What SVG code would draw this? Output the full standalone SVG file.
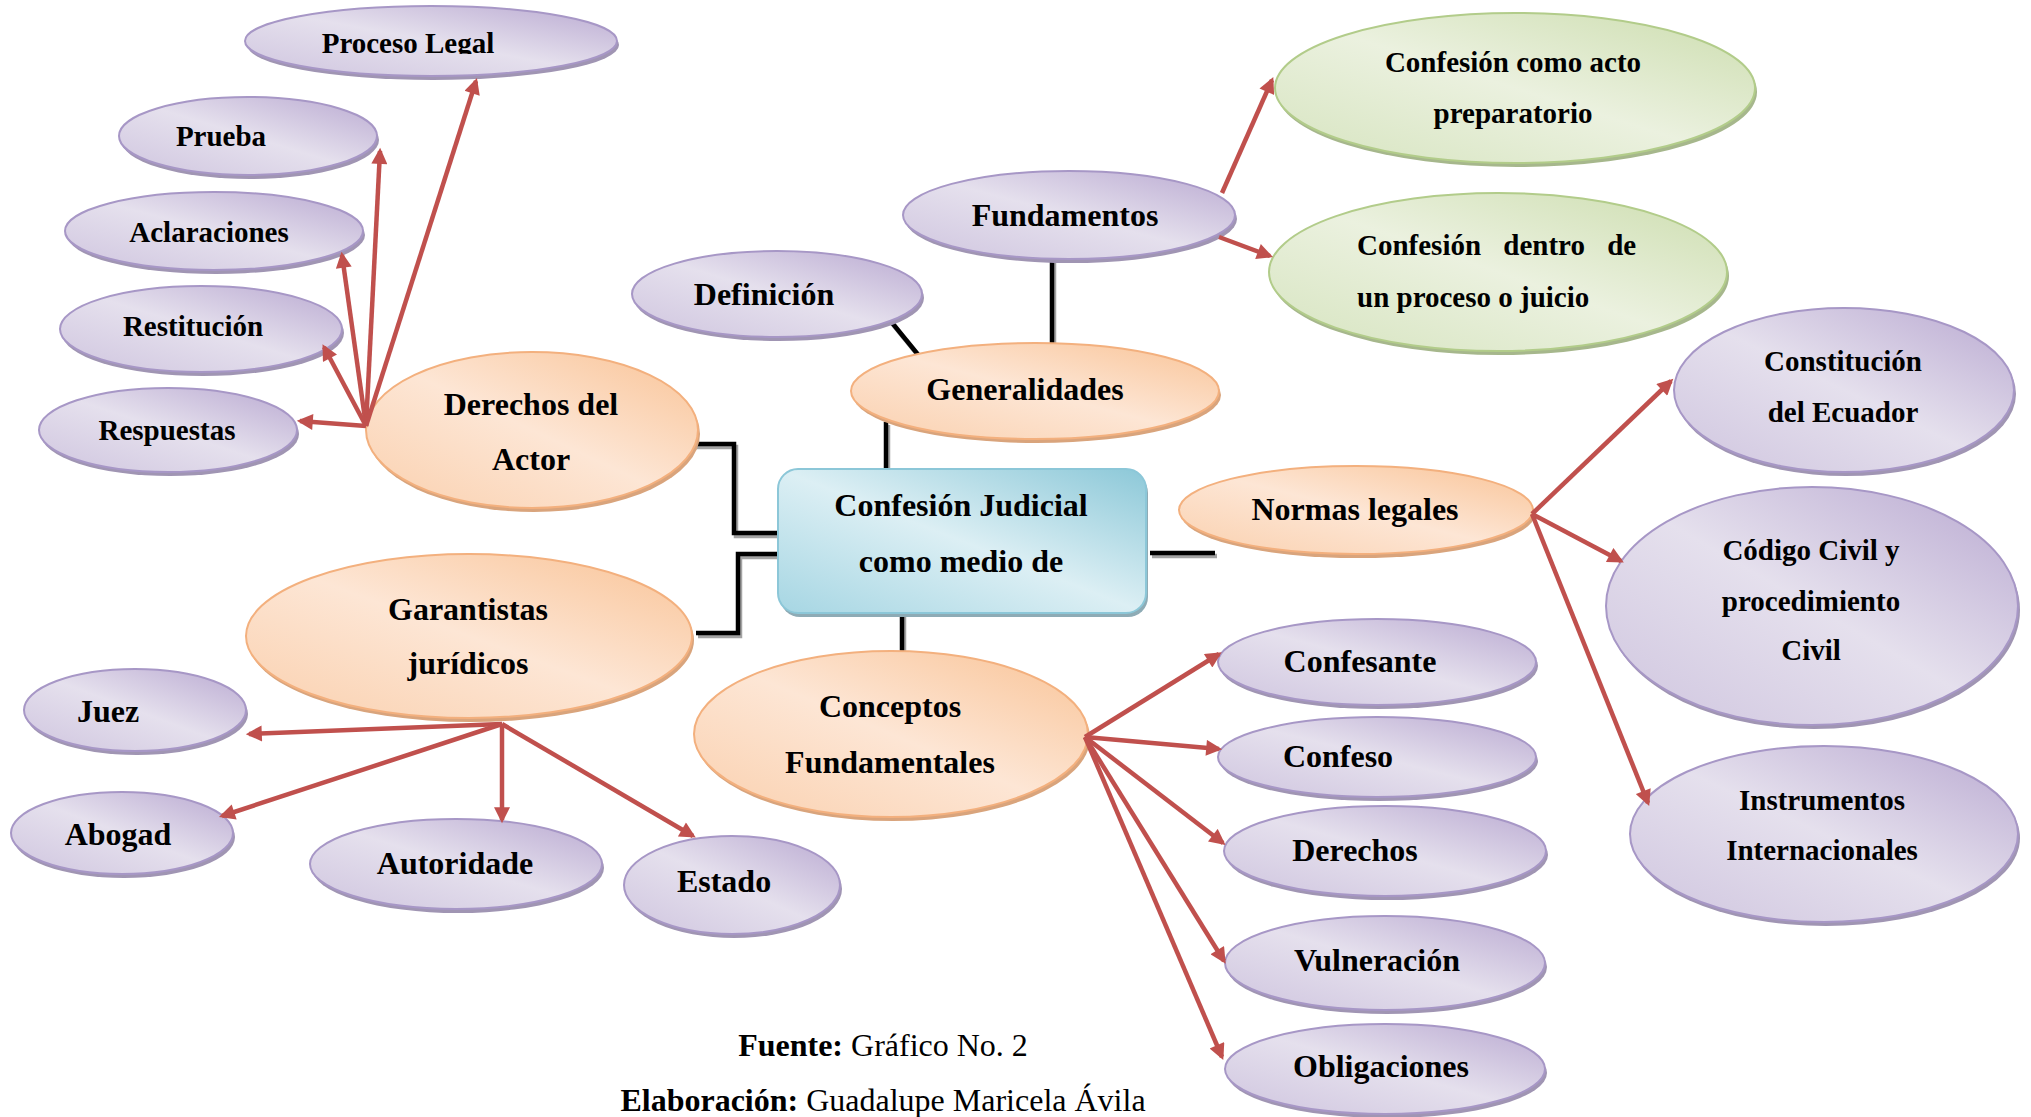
<svg xmlns="http://www.w3.org/2000/svg" width="2031" height="1117" viewBox="0 0 2031 1117">
<defs>
<linearGradient id="gp" x1="1" y1="0" x2="0" y2="1">
<stop offset="0" stop-color="#B9A9D1"/><stop offset="0.5" stop-color="#E5E0ED"/><stop offset="1" stop-color="#CFC5DF"/>
</linearGradient>
<linearGradient id="go" x1="1" y1="0" x2="0" y2="1">
<stop offset="0" stop-color="#F9C396"/><stop offset="0.5" stop-color="#FDE6D5"/><stop offset="1" stop-color="#FAD0AE"/>
</linearGradient>
<linearGradient id="gg" x1="1" y1="0" x2="0" y2="1">
<stop offset="0" stop-color="#CCDDAE"/><stop offset="0.5" stop-color="#EBF1DF"/><stop offset="1" stop-color="#D6E4BF"/>
</linearGradient>
<linearGradient id="gb" x1="1" y1="0" x2="0" y2="1">
<stop offset="0" stop-color="#8CC8D8"/><stop offset="0.5" stop-color="#DCEFF4"/><stop offset="1" stop-color="#A6D6E3"/>
</linearGradient>
<marker id="ah" viewBox="0 0 10 10" refX="8" refY="5" markerWidth="18" markerHeight="16" markerUnits="userSpaceOnUse" orient="auto">
<path d="M0,0 L10,5 L0,10 z" fill="#C0504D"/>
</marker>
<clipPath id="clipPL"><rect x="0" y="0" width="700" height="54"/></clipPath>
<style>
.t{font-family:"Liberation Serif","Times New Roman",serif;font-weight:bold;text-anchor:middle;fill:#000}
.r{font-weight:normal}
.s32{font-size:32px}
.s29{font-size:29px}
.pu{fill:url(#gp);stroke:#A797C6;stroke-width:2}
.pus{fill:#A095B3}
.or{fill:url(#go);stroke:#F3B07E;stroke-width:2}
.ors{fill:#D9A47C}
.gr{fill:url(#gg);stroke:#B2CC8A;stroke-width:2}
.grs{fill:#A6B78C}
.bl{fill:url(#gb);stroke:#8CC7D8;stroke-width:2}
.bls{fill:#8EABB5}
.blk{stroke:#000;stroke-width:4.5;fill:none}
.blks{stroke:#A3A3A3;stroke-width:4.5;fill:none}
.red{stroke:#C0504D;stroke-width:4.5;fill:none;marker-end:url(#ah)}
</style>
</defs>
<rect width="2031" height="1117" fill="#fff"/>

<g id="connectors">
<g id="black-shadows" transform="translate(2,3)">
<path class="blks" d="M886,422 V469"/>
<path class="blks" d="M1052,259 V345"/>
<path class="blks" d="M889,319 L920,357"/>
<path class="blks" d="M690,444 H734 V533 H778"/>
<path class="blks" d="M778,554 H738 V633 H696"/>
<path class="blks" d="M902,613 V652"/>
<path class="blks" d="M1150,553 H1215"/>
</g>
<path class="blk" d="M886,422 V469"/>
<path class="blk" d="M1052,259 V345"/>
<path class="blk" d="M889,319 L920,357"/>
<path class="blk" d="M690,444 H734 V533 H778"/>
<path class="blk" d="M778,554 H738 V633 H696"/>
<path class="blk" d="M902,613 V652"/>
<path class="blk" d="M1150,553 H1215"/>
</g>

<g id="n-proceso-legal"><ellipse class="pus" cx="433" cy="45" rx="186" ry="35"/><ellipse class="pu" cx="431" cy="41" rx="186" ry="35"/><text class="t s29" x="408" y="53" clip-path="url(#clipPL)">Proceso Legal</text></g>
<g id="n-prueba"><ellipse class="pus" cx="250" cy="140" rx="129" ry="39"/><ellipse class="pu" cx="248" cy="136" rx="129" ry="39"/><text class="t s29" x="221" y="146">Prueba</text></g>
<g id="n-aclaraciones"><ellipse class="pus" cx="216" cy="235" rx="149" ry="39"/><ellipse class="pu" cx="214" cy="231" rx="149" ry="39"/><text class="t s29" x="209" y="242">Aclaraciones</text></g>
<g id="n-restitucion"><ellipse class="pus" cx="203" cy="333" rx="141" ry="43"/><ellipse class="pu" cx="201" cy="329" rx="141" ry="43"/><text class="t s29" x="193" y="336">Restitución</text></g>
<g id="n-respuestas"><ellipse class="pus" cx="170" cy="434" rx="129" ry="42"/><ellipse class="pu" cx="168" cy="430" rx="129" ry="42"/><text class="t s29" x="167" y="440">Respuestas</text></g>
<g id="n-derechos-actor"><ellipse class="ors" cx="534" cy="434" rx="166" ry="78"/><ellipse class="or" cx="532" cy="430" rx="166" ry="78"/><text class="t s32" x="531" y="415">Derechos del</text><text class="t s32" x="531" y="470">Actor</text></g>
<g id="n-definicion"><ellipse class="pus" cx="779" cy="298" rx="145" ry="43"/><ellipse class="pu" cx="777" cy="294" rx="145" ry="43"/><text class="t s32" x="764" y="305">Definición</text></g>
<g id="n-fundamentos"><ellipse class="pus" cx="1071" cy="219" rx="166" ry="44"/><ellipse class="pu" cx="1069" cy="215" rx="166" ry="44"/><text class="t s32" x="1065" y="226">Fundamentos</text></g>
<g id="n-generalidades"><ellipse class="ors" cx="1037" cy="395" rx="184" ry="48"/><ellipse class="or" cx="1035" cy="391" rx="184" ry="48"/><text class="t s32" x="1025" y="400">Generalidades</text></g>
<g id="n-conf-acto"><ellipse class="grs" cx="1517" cy="92" rx="240" ry="75"/><ellipse class="gr" cx="1515" cy="88" rx="240" ry="75"/><text class="t s29" x="1513" y="72">Confesión como acto</text><text class="t s29" x="1513" y="123">preparatorio</text></g>
<g id="n-conf-proceso"><ellipse class="grs" cx="1500" cy="276" rx="229" ry="79"/><ellipse class="gr" cx="1498" cy="272" rx="229" ry="79"/><text class="t s29" x="1357" y="255" style="text-anchor:start" word-spacing="15">Confesión dentro de</text><text class="t s29" x="1357" y="307" style="text-anchor:start">un proceso o juicio</text></g>
<g id="n-central"><rect class="bls" x="780" y="473" width="368" height="144" rx="20"/><rect class="bl" x="778" y="469" width="368" height="144" rx="20"/><text class="t s32" x="961" y="516">Confesión Judicial</text><text class="t s32" x="961" y="572">como medio de</text></g>
<g id="n-normas"><ellipse class="ors" cx="1358" cy="514" rx="177" ry="44"/><ellipse class="or" cx="1356" cy="510" rx="177" ry="44"/><text class="t s32" x="1355" y="520">Normas legales</text></g>
<g id="n-constitucion"><ellipse class="pus" cx="1846" cy="394" rx="170" ry="82"/><ellipse class="pu" cx="1844" cy="390" rx="170" ry="82"/><text class="t s29" x="1843" y="371">Constitución</text><text class="t s29" x="1843" y="422">del Ecuador</text></g>
<g id="n-codigo"><ellipse class="pus" cx="1814" cy="610" rx="206" ry="119"/><ellipse class="pu" cx="1812" cy="606" rx="206" ry="119"/><text class="t s29" x="1811" y="560">Código Civil y</text><text class="t s29" x="1811" y="611">procedimiento</text><text class="t s29" x="1811" y="660">Civil</text></g>
<g id="n-instrumentos"><ellipse class="pus" cx="1826" cy="838" rx="194" ry="88"/><ellipse class="pu" cx="1824" cy="834" rx="194" ry="88"/><text class="t s29" x="1822" y="810">Instrumentos</text><text class="t s29" x="1822" y="860">Internacionales</text></g>
<g id="n-garantistas"><ellipse class="ors" cx="471" cy="640" rx="223" ry="82"/><ellipse class="or" cx="469" cy="636" rx="223" ry="82"/><text class="t s32" x="468" y="620">Garantistas</text><text class="t s32" x="468" y="674">jurídicos</text></g>
<g id="n-conceptos"><ellipse class="ors" cx="893" cy="738" rx="197" ry="83"/><ellipse class="or" cx="891" cy="734" rx="197" ry="83"/><text class="t s32" x="890" y="717">Conceptos</text><text class="t s32" x="890" y="773">Fundamentales</text></g>
<g id="n-juez"><ellipse class="pus" cx="137" cy="714" rx="111" ry="41"/><ellipse class="pu" cx="135" cy="710" rx="111" ry="41"/><text class="t s32" x="108" y="722">Juez</text></g>
<g id="n-abogad"><ellipse class="pus" cx="124" cy="837" rx="111" ry="41"/><ellipse class="pu" cx="122" cy="833" rx="111" ry="41"/><text class="t s32" x="118" y="845">Abogad</text></g>
<g id="n-autoridade"><ellipse class="pus" cx="458" cy="868" rx="146" ry="45"/><ellipse class="pu" cx="456" cy="864" rx="146" ry="45"/><text class="t s32" x="455" y="874">Autoridade</text></g>
<g id="n-estado"><ellipse class="pus" cx="734" cy="889" rx="108" ry="49"/><ellipse class="pu" cx="732" cy="885" rx="108" ry="49"/><text class="t s32" x="724" y="892">Estado</text></g>
<g id="n-confesante"><ellipse class="pus" cx="1379" cy="666" rx="159" ry="43"/><ellipse class="pu" cx="1377" cy="662" rx="159" ry="43"/><text class="t s32" x="1360" y="672">Confesante</text></g>
<g id="n-confeso"><ellipse class="pus" cx="1379" cy="761" rx="159" ry="40"/><ellipse class="pu" cx="1377" cy="757" rx="159" ry="40"/><text class="t s32" x="1338" y="767">Confeso</text></g>
<g id="n-derechos"><ellipse class="pus" cx="1387" cy="855" rx="161" ry="45"/><ellipse class="pu" cx="1385" cy="851" rx="161" ry="45"/><text class="t s32" x="1355" y="861">Derechos</text></g>
<g id="n-vulneracion"><ellipse class="pus" cx="1387" cy="967" rx="160" ry="47"/><ellipse class="pu" cx="1385" cy="963" rx="160" ry="47"/><text class="t s32" x="1377" y="971">Vulneración</text></g>
<g id="n-obligaciones"><ellipse class="pus" cx="1387" cy="1073" rx="160" ry="45"/><ellipse class="pu" cx="1385" cy="1069" rx="160" ry="45"/><text class="t s32" x="1381" y="1077">Obligaciones</text></g>

<g id="arrows">
<line class="red" x1="366" y1="426" x2="300" y2="421"/>
<line class="red" x1="366" y1="426" x2="324" y2="347"/>
<line class="red" x1="366" y1="426" x2="342" y2="255"/>
<line class="red" x1="366" y1="426" x2="380" y2="151"/>
<line class="red" x1="366" y1="426" x2="476" y2="81"/>
<line class="red" x1="1222" y1="193" x2="1272" y2="80"/>
<line class="red" x1="1219" y1="237" x2="1270" y2="256"/>
<line class="red" x1="1532" y1="514" x2="1671" y2="381"/>
<line class="red" x1="1532" y1="514" x2="1621" y2="561"/>
<line class="red" x1="1532" y1="514" x2="1648" y2="803"/>
<line class="red" x1="502" y1="724" x2="249" y2="734"/>
<line class="red" x1="502" y1="724" x2="222" y2="816"/>
<line class="red" x1="502" y1="724" x2="502" y2="820"/>
<line class="red" x1="502" y1="724" x2="693" y2="836"/>
<line class="red" x1="1085" y1="737" x2="1219" y2="654"/>
<line class="red" x1="1085" y1="737" x2="1219" y2="749"/>
<line class="red" x1="1085" y1="737" x2="1223" y2="843"/>
<line class="red" x1="1085" y1="737" x2="1224" y2="961"/>
<line class="red" x1="1085" y1="737" x2="1222" y2="1057"/>
</g>

<g id="caption">
<text class="t s32" x="883" y="1056">Fuente:<tspan class="r"> Gráfico No. 2</tspan></text>
<text class="t s32" x="883" y="1111">Elaboración:<tspan class="r"> Guadalupe Maricela Ávila</tspan></text>
</g>
</svg>
